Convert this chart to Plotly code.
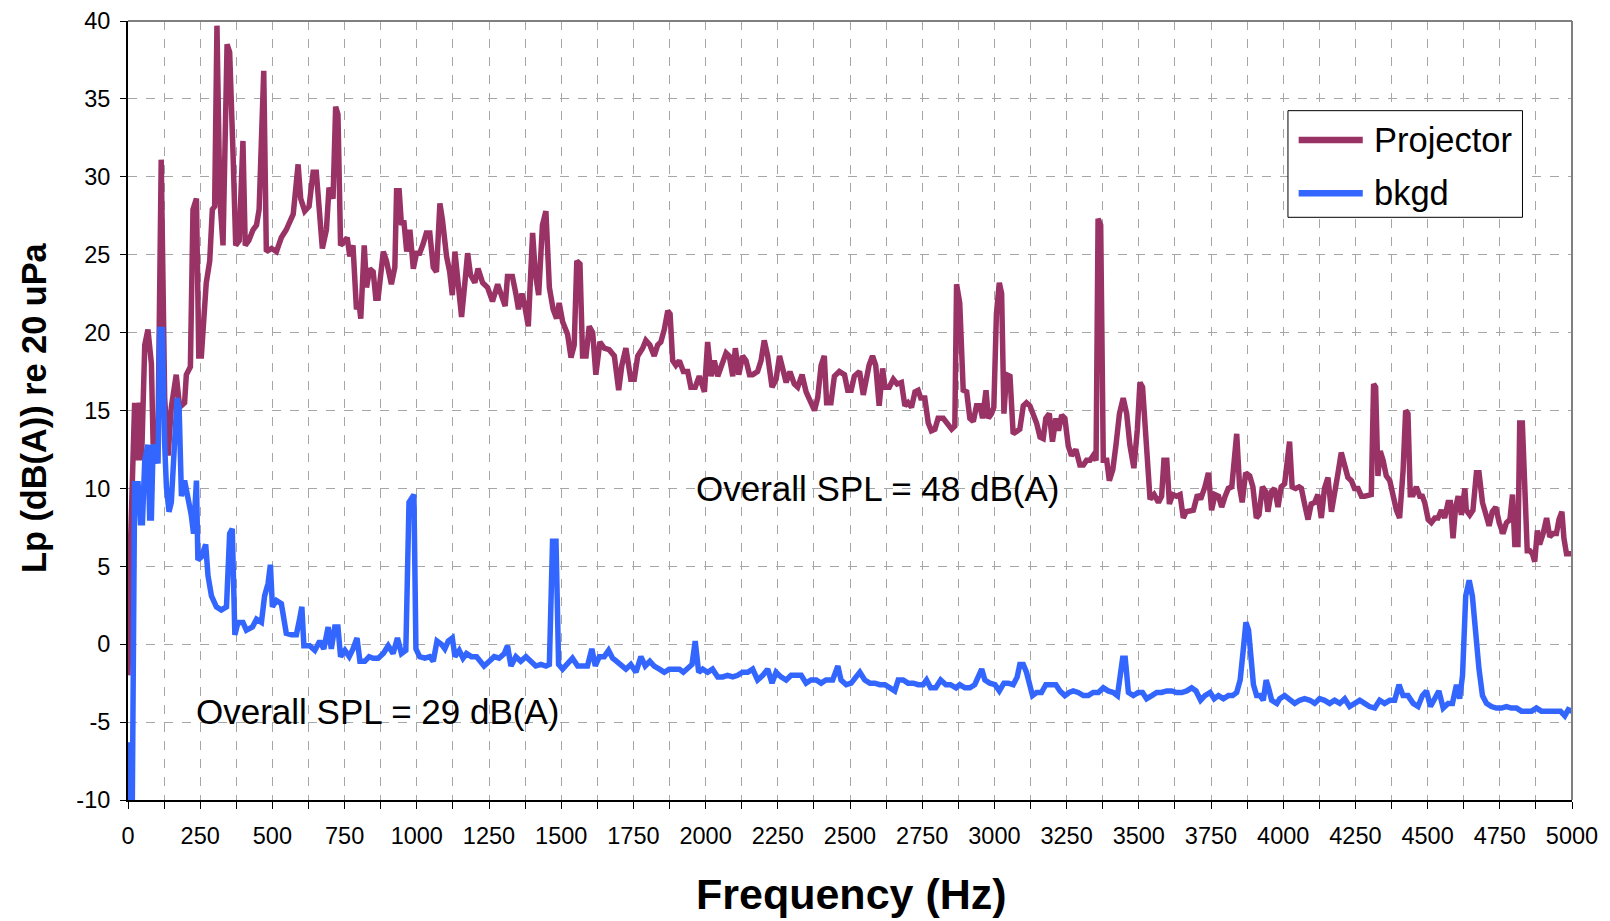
import plotly.graph_objects as go

# ---------------- data: Projector ----------------
proj_freq = [
    0, 8, 23, 29, 40, 47, 58, 69, 81, 87,
    95, 104, 115, 127, 139, 150, 167, 179, 196, 202,
    216, 225, 237, 245, 254, 271, 283, 292, 300, 308,
    318, 329, 343, 352, 364, 373, 385, 398, 406, 418,
    433, 445, 454, 470, 479, 497, 514, 531, 548, 560,
    572, 579, 589, 598, 612, 627, 641, 652, 664, 673,
    687, 696, 710, 719, 727, 736, 751, 759, 768, 779,
    791, 800, 806, 818, 826, 837, 849, 858, 866, 884,
    895, 904, 912, 924, 930, 939, 947, 955, 965, 976,
    988, 999, 1010, 1022, 1033, 1045, 1057, 1068, 1080, 1089,
    1103, 1114, 1123, 1132, 1143, 1155, 1166, 1176, 1186, 1201,
    1212,
    1228, 1245, 1262, 1280, 1291, 1306, 1314, 1331, 1343, 1352,
    1364, 1372, 1386, 1401, 1410, 1422, 1435, 1447, 1459, 1472,
    1484, 1493, 1505, 1522, 1534, 1545, 1554, 1565, 1574, 1586,
    1597, 1609, 1620, 1634, 1649, 1666, 1684, 1699, 1710, 1724,
    1741, 1753, 1765, 1782, 1793, 1807, 1822, 1834, 1845, 1857,
    1869, 1877, 1886, 1897, 1909, 1923, 1938, 1949, 1964, 1978,
    1996, 2007, 2019, 2030, 2042, 2057, 2071, 2082, 2094, 2103,
    2115, 2128, 2140, 2152, 2163, 2180, 2192, 2203, 2215, 2230,
    2244, 2256, 2267, 2279, 2292, 2307, 2319, 2334, 2348, 2365,
    2377, 2388, 2400, 2411, 2419, 2434, 2446, 2463, 2481, 2492,
    2504, 2515, 2533,
    2546, 2557, 2566, 2578, 2589, 2601, 2613, 2621, 2636, 2650,
    2663, 2678, 2690, 2701, 2713, 2725, 2736, 2745, 2759, 2771,
    2782, 2794, 2805, 2823, 2837, 2852, 2863, 2869, 2880, 2892,
    2904, 2915, 2927, 2938, 2950, 2959, 2971, 2979, 2990, 2998,
    3007, 3017, 3025, 3033, 3042, 3054, 3065, 3077, 3088, 3100,
    3111, 3123, 3135, 3146, 3158, 3169, 3178, 3190, 3201, 3213,
    3222, 3233, 3244, 3256, 3267, 3282, 3296, 3308, 3319, 3331,
    3342, 3352, 3359, 3368, 3377, 3389, 3398, 3410, 3421, 3433,
    3446, 3458, 3469, 3483, 3495, 3504, 3513, 3521, 3530, 3539,
    3553, 3568, 3579, 3587, 3597, 3606, 3617, 3631, 3643, 3654,
    3664, 3677, 3689, 3703, 3714, 3729, 3741, 3752, 3764, 3776,
    3787, 3799, 3810, 3822, 3831, 3839,
    3849, 3858, 3870, 3884, 3895, 3907, 3916, 3928, 3939, 3947,
    3959, 3970, 3982, 3993, 4005, 4013, 4022, 4031, 4043, 4055,
    4063, 4074, 4086, 4097, 4109, 4120, 4132, 4143, 4155, 4167,
    4178, 4190, 4201, 4213, 4224, 4236, 4247, 4259, 4271, 4282,
    4294, 4305, 4313, 4320, 4328, 4336, 4346, 4357, 4369, 4380,
    4392, 4403, 4415, 4424, 4432, 4440, 4450, 4461, 4473, 4482,
    4490, 4502, 4513, 4525, 4536, 4548, 4559, 4571, 4579, 4588,
    4597, 4606, 4617, 4629, 4634, 4646, 4657, 4669, 4678, 4690,
    4701, 4713, 4724, 4736, 4748, 4761, 4773, 4785, 4794, 4802,
    4813, 4819, 4828, 4838, 4845, 4854, 4863, 4871, 4880, 4888,
    4900, 4912, 4923, 4935, 4946, 4955, 4965, 4972, 4981, 4992,
    5000,
]
proj_db = [
    -2, 6, 15.5, 11.8, 15.5, 11.8, 19.2, 20.2, 18, 12.8,
    13.8, 13.8, 31.1, 15.8, 12.1, 15.2, 17.3, 15.2, 15.5, 17.3,
    17.8, 27.9, 28.6, 18.5, 18.5, 23.2, 24.6, 27.9, 28.1, 39.7,
    28.6, 25.6, 38.5, 38, 31.3, 25.6, 25.9, 32.3, 25.6, 25.9,
    26.6, 26.9, 27.9, 36.8, 25.2, 25.4, 25.2, 26.1, 26.6, 27.2,
    27.6, 28.9, 30.8, 28.6, 27.8, 28.1, 30.3, 30.3, 27.2, 25.4,
    26.6, 29.3, 28.6, 34.5, 34, 25.6, 25.9, 26.1, 24.9, 25.6,
    21.5, 21.9, 20.9, 25.6, 22.9, 24.1, 23.9, 22.2, 22.2, 25.2,
    24.6, 23.9, 23.1, 24.2, 29.1, 29.1, 26.9, 27.2, 25.2, 26.6,
    24.1, 25.1, 25.1, 25.7, 26.4, 26.4, 24.2, 23.9, 28.3, 27.2,
    24.9, 23.9, 22.4, 25.2, 23.1, 21, 23.1, 25.1, 23.7, 23.2,
    24.1,
    23.2, 22.9, 22, 23.1, 22.5, 21.7, 23.6, 23.6, 22.5, 21.5,
    22.5, 21.9, 20.4, 26.4, 23.9, 22.4, 26.9, 27.8, 22.9, 21.5,
    20.9, 21.9, 20.7, 19.9, 18.4, 19.2, 24.6, 24.4, 18.5, 18.5,
    20.4, 20, 17.3, 19.4, 19, 18.9, 18.5, 16.3, 17.9, 19,
    17, 17, 18.5, 19, 19.5, 19.2, 18.5, 19.2, 19.4, 20.2,
    21.4, 21.2, 18.2, 17.9, 18.2, 17.5, 17.5, 16.5, 16.5, 17.2,
    16.2, 19.4, 17.2, 18.2, 17.2, 18, 18.7, 18.5, 17.2, 19,
    17.3, 18.5, 18.2, 17.3, 17.3, 17.5, 18.2, 19.5, 18.5, 16.5,
    17, 18.5, 17.7, 16.8, 17.5, 16.7, 16.5, 17.3, 16.2, 15.5,
    15, 15.8, 17.9, 18.5, 15.5, 15.5, 17.2, 17.5, 17.3, 16.3,
    16.3, 17.2, 17.5,
    16, 17.2, 17.9, 18.5, 17.9, 15.3, 17.7, 16.5, 16.5, 17,
    16.7, 16.8, 15.3, 15.5, 15.2, 16.2, 16.3, 15.8, 15.8, 14.2,
    13.7, 13.8, 14.5, 14.5, 14.2, 13.8, 14, 23.1, 21.9, 16.3,
    16.2, 14.5, 14.3, 15.3, 15.3, 14.5, 16.3, 14.5, 14.8, 15.2,
    21.2, 23.2, 22.5, 14.8, 17.3, 17.2, 13.5, 13.7, 13.8, 15.3,
    15.5, 15.3, 14.8, 14.2, 13.3, 13.2, 14.5, 14.8, 13, 14.5,
    13.7, 14.7, 14.5, 12.7, 12.1, 12.5, 11.5, 11.5, 11.8, 11.8,
    12.1, 11.8, 27.3, 26.9, 11.8, 11.8, 10.5, 11.2, 12.8, 14.8,
    15.8, 14.8, 12.8, 11.3, 13.8, 16.8, 16.5, 14.2, 11.8, 9.3,
    9.6, 9.1, 9.5, 11.8, 11.8, 9, 9.6, 9.5, 9.6, 8.1,
    8.5, 8.6, 8.6, 9.6, 9.3, 10.1, 11, 8.6, 9.6, 9.5,
    8.8, 9.5, 10, 10.1, 11.8, 13.5,
    10.1, 9.1, 11, 10.8, 10.1, 8.1, 8.3, 10.1, 9.8, 8.5,
    9.8, 10, 8.8, 10.1, 10.3, 11.3, 13, 10.1, 10, 10.1,
    10, 9, 8, 9, 9.1, 9.6, 8.1, 10, 10.7, 8.5,
    9.5, 11, 12.3, 11.3, 10.7, 10.5, 10, 10, 9.5, 9.5,
    9.6, 9.6, 16.7, 16.5, 10.8, 12.4, 11.8, 10.8, 10.5, 9.5,
    8.6, 8.1, 11.1, 15, 14.8, 9.6, 9.6, 10.1, 9.5, 9.5,
    9.1, 8, 7.8, 8.1, 8.1, 8.6, 8.1, 9.1, 9.1, 6.8,
    8.8, 9.5, 8.3, 10, 8.6, 8.3, 8.6, 11, 11, 9.1,
    8.3, 7.6, 8.5, 8.8, 7.8, 7.1, 7.8, 8, 9.6, 6.4,
    6.4, 14.2, 14.2, 7.8, 6, 6, 5.8, 5.3, 7.3, 6.4,
    7.1, 8.1, 6.9, 7.1, 7.1, 8, 8.5, 6.8, 5.8, 5.8,
    5.8,
]

# ---------------- data: background ----------------
bkgd_freq = [
    0, 6, 15, 23, 35, 43, 50, 58, 69, 75,
    81, 87, 96, 104, 110, 119, 127, 133, 142, 150,
    162, 170, 177, 185, 196, 208, 219, 227, 237, 242,
    254, 269, 277, 289, 306, 323, 341, 352, 361, 370,
    381, 398, 410, 431, 445, 462, 473, 485, 493, 500,
    514, 531, 548, 566, 583, 595, 602, 609, 629, 647,
    664, 678, 693, 704, 716, 727, 736, 751, 766, 779,
    793, 803, 820, 835, 849, 866, 884, 901, 918, 933,
    947, 962, 973, 990, 997, 1010, 1028, 1045, 1057, 1070,
    1085, 1097, 1109, 1123, 1132, 1147, 1160, 1172, 1189, 1207,
    1233, 1251, 1268, 1285, 1303, 1314, 1326, 1343, 1360, 1378,
    1395, 1412, 1430, 1447, 1459, 1470, 1482, 1491, 1505, 1522,
    1539, 1557, 1574, 1591, 1606, 1618, 1632, 1649, 1664, 1678,
    1692, 1707, 1724, 1741, 1759, 1776, 1791, 1807, 1822, 1840,
    1857, 1874, 1892, 1909, 1923, 1938, 1953, 1964, 1976, 1990,
    2007, 2024, 2042, 2059, 2076, 2094, 2111, 2128, 2146, 2163,
    2180, 2198, 2215, 2230, 2244, 2261, 2279, 2296, 2313, 2331,
    2348, 2365, 2383, 2400, 2417, 2440, 2458, 2469, 2487, 2504,
    2521,
    2534, 2551, 2569, 2586, 2603, 2621, 2638, 2655, 2667, 2684,
    2701, 2719, 2736, 2753, 2765, 2779, 2797, 2814, 2832, 2848,
    2867, 2880, 2898, 2915, 2932, 2947, 2956, 2967, 2984, 3002,
    3017, 3033, 3048, 3065, 3079, 3088, 3100, 3111, 3123, 3132,
    3146, 3163, 3178, 3195, 3213, 3227, 3244, 3259, 3273, 3290,
    3308, 3325, 3342, 3360, 3377, 3394, 3412, 3426, 3435, 3444,
    3453, 3464, 3481, 3498, 3513, 3527, 3545, 3562, 3579, 3597,
    3614, 3631, 3649, 3666, 3683, 3698, 3714, 3729, 3747, 3761,
    3776, 3793, 3810, 3825, 3839, 3851, 3862, 3871, 3880, 3888,
    3897, 3908, 3920, 3931, 3941, 3949, 3960, 3978,
    3988, 4005, 4022, 4040, 4057, 4074, 4092, 4109, 4126, 4143,
    4161, 4178, 4196, 4213, 4230, 4247, 4265, 4282, 4299, 4317,
    4334, 4351, 4369, 4386, 4401, 4415, 4432, 4450, 4467, 4482,
    4496, 4510, 4525, 4539, 4554, 4571, 4586, 4600, 4611, 4621,
    4632, 4644, 4655, 4667, 4678, 4690, 4704, 4721, 4738, 4756,
    4773, 4790, 4808, 4825, 4842, 4860, 4877, 4894, 4912, 4929,
    4946, 4960, 4975, 4987, 5000,
]
bkgd_db = [
    -6.3, -10, -10, 10.3, 10.3, 7.8, 7.8, 11.8, 12.8, 8.1,
    8.1, 12.8, 12.5, 11.6, 20.2, 20.2, 12.8, 10.1, 8.5, 9.1,
    13.2, 15.8, 15.2, 9.5, 10.5, 9.5, 8.3, 7.1, 10.5, 5.4,
    5.6, 6.4, 4.4, 3.1, 2.4, 2.2, 2.4, 7.1, 7.4, 0.6,
    1.4, 1.4, 0.9, 1.1, 1.6, 1.4, 3.1, 3.9, 5.1, 2.4,
    2.8, 2.6, 0.7, 0.6, 0.6, 1.7, 2.4, -0.1, -0.1, -0.4,
    0.2, -0.3, 1.1, -0.3, 1.1, 1.1, -0.8, -0.4, -0.8, -0.3,
    0.4, -1.1, -1.1, -0.8, -0.9, -0.9, -0.6, -0.1, -0.6, 0.4,
    -0.6, -0.4, 9.1, 9.6, -0.3, -0.8, -0.9, -0.8, -1.1, 0.2,
    0, -0.3, 0.2, 0.4, -0.8, -0.4, -0.9, -0.6, -0.8, -0.8,
    -1.4, -1.1, -0.8, -0.9, -0.6, -0.1, -1.4, -0.8, -1.1, -0.8,
    -1.1, -1.4, -1.3, -1.4, -1.3, 6.6, 6.6, -1.3, -1.6, -1.3,
    -0.9, -1.4, -1.4, -1.4, -0.3, -1.4, -0.8, -0.8, -0.4, -0.9,
    -1.1, -1.3, -1.6, -1.3, -1.8, -0.8, -1.4, -1.1, -1.4, -1.6,
    -1.8, -1.6, -1.6, -1.6, -1.8, -1.6, -1.3, 0.2, -1.8, -1.6,
    -1.8, -1.6, -2.1, -2.1, -2, -2.1, -2, -1.8, -1.8, -1.6,
    -2.3, -2, -1.6, -2.5, -1.8, -2.1, -2.3, -2, -2, -2,
    -2.5, -2.3, -2.3, -2.5, -2.3, -2.3, -1.4, -2.3, -2.6, -2.5,
    -2.1,
    -1.8, -2.3, -2.5, -2.5, -2.6, -2.6, -2.8, -3, -2.3, -2.3,
    -2.5, -2.5, -2.6, -2.6, -2.3, -2.8, -2.8, -2.3, -2.6, -2.6,
    -2.8, -2.6, -2.8, -2.8, -2.6, -2, -1.6, -2.3, -2.5, -2.6,
    -3, -2.5, -2.5, -2.6, -2.1, -1.3, -1.3, -1.8, -2.5, -3.3,
    -3.1, -3.1, -2.6, -2.6, -2.6, -3, -3.3, -3.1, -3, -3.1,
    -3.3, -3.3, -3.1, -3.1, -2.8, -3, -3.1, -3.3, -2.3, -0.9,
    -0.9, -3.1, -3.3, -3.1, -3.1, -3.5, -3.3, -3.1, -3.1, -3,
    -3, -3.1, -3.1, -3, -2.8, -3, -3.6, -3.3, -3.1, -3.5,
    -3.3, -3.5, -3.3, -3.3, -3.1, -2.3, -0.3, 1.4, 0.9, -1.3,
    -2.6, -3.3, -3.3, -3.6, -2.3, -2.8, -3.6, -3.8,
    -3.5, -3.3, -3.6, -3.8, -3.6, -3.5, -3.6, -3.8, -3.5, -3.6,
    -3.8, -3.6, -3.8, -3.5, -4, -3.8, -3.6, -3.8, -4, -4.1,
    -3.6, -3.8, -3.6, -3.6, -2.6, -3.3, -3.3, -3.8, -4, -3.3,
    -3, -4, -3.5, -3, -4.1, -3.8, -3.8, -2.6, -3.5, -2,
    3.1, 4.1, 3.1, 0.4, -1.6, -3.3, -3.8, -4, -4.1, -4.1,
    -4, -4.1, -4.1, -4.3, -4.3, -4.3, -4.1, -4.3, -4.3, -4.3,
    -4.3, -4.3, -4.6, -4.2, -4.3,
]

series_names = ["Projector", "bkgd"]
annotation_texts = ["Overall SPL = 48 dB(A)", "Overall SPL = 29 dB(A)"]
x_tick_values = list(range(0, 5001, 250))
y_tick_values = list(range(-10, 41, 5))
y_tick_labels = [str(v) for v in y_tick_values]

FONT = "Liberation Sans, Arial, sans-serif"
MAROON = "#993366"
BLUE = "#3366FF"
GRID = "#a6a6a6"
colors = [MAROON, BLUE]

fig = go.Figure()
fig.add_trace(go.Scatter(x=proj_freq, y=proj_db, mode="lines", name=series_names[0],
                         line=dict(color=MAROON, width=5.5), showlegend=False))
fig.add_trace(go.Scatter(x=bkgd_freq, y=bkgd_db, mode="lines", name=series_names[1],
                         line=dict(color=BLUE, width=5.5), showlegend=False))

# The page body has an 8px margin, so the figure is 16px smaller than the window
fig.update_layout(
    width=1602, height=913,
    margin=dict(l=120, r=38, t=13, b=121, autoexpand=False),
    paper_bgcolor="white", plot_bgcolor="white",
    font=dict(family=FONT, color="black"),
    showlegend=False,
    xaxis=dict(range=[0, 5000], tickmode="array", tickvals=x_tick_values,
               ticks="outside", ticklen=7, tickcolor="black", automargin=False,
               tickfont=dict(size=23.5, family=FONT), ticklabelstandoff=7,
               showline=True, linecolor="black", linewidth=2,
               showgrid=True, gridcolor=GRID, griddash="dash", gridwidth=1,
               minor=dict(dtick=125, tick0=0, showgrid=True, gridcolor=GRID,
                          griddash="dash", ticks="outside", ticklen=7, tickcolor="black"),
               zeroline=False),
    yaxis=dict(range=[-10, 40], tickmode="array", tickvals=y_tick_values,
               ticktext=y_tick_labels,
               ticks="outside", ticklen=6, tickcolor="black", automargin=False,
               tickfont=dict(size=23.5, family=FONT), ticklabelstandoff=5,
               showline=True, linecolor="black", linewidth=2,
               showgrid=True, gridcolor=GRID, griddash="dash", gridwidth=1,
               zeroline=False),
)

# gray frame on top and right
fig.add_shape(type="line", xref="paper", yref="paper", x0=0, x1=1, y0=1, y1=1,
              line=dict(color="#808080", width=2))
fig.add_shape(type="line", xref="paper", yref="paper", x0=1, x1=1, y0=0, y1=1,
              line=dict(color="#808080", width=2))

# legend box drawn by hand (to match the long line samples of the original)
fig.add_shape(type="rect", xref="paper", yref="paper", x0=0.8033, x1=0.9657,
              y0=0.748, y1=0.8849, line=dict(color="black", width=1),
              fillcolor="white", layer="above")
legend_y = [0.8472, 0.7788]
for name, col, ly in zip(series_names, colors, legend_y):
    fig.add_shape(type="line", xref="paper", yref="paper", x0=0.8107, x1=0.8551,
                  y0=ly, y1=ly, line=dict(color=col, width=6.5), layer="above")
    fig.add_annotation(text=name, xref="paper", yref="paper", x=0.8618, y=ly,
                       xanchor="left", yanchor="middle", showarrow=False,
                       font=dict(size=34.5, family=FONT))

# axis titles
fig.add_annotation(text="<b>Frequency (Hz)</b>", xref="paper", yref="paper",
                   x=0.5008, y=-0.1205, xanchor="center", yanchor="middle",
                   showarrow=False, font=dict(size=43, family=FONT))
fig.add_annotation(text="<b>Lp (dB(A)) re 20 uPa</b>", xref="paper", yref="paper",
                   x=-0.0651, y=0.5045, xanchor="center", yanchor="middle",
                   textangle=-90, showarrow=False, font=dict(size=34.3, family=FONT))

# overall SPL labels
fig.add_annotation(text=annotation_texts[0], x=2596, y=10, xanchor="center",
                   yanchor="middle", showarrow=False, font=dict(size=35, family=FONT))
fig.add_annotation(text=annotation_texts[1], x=863, y=-4.3, xanchor="center",
                   yanchor="middle", showarrow=False, font=dict(size=35, family=FONT))

fig.write_html("out.html")
